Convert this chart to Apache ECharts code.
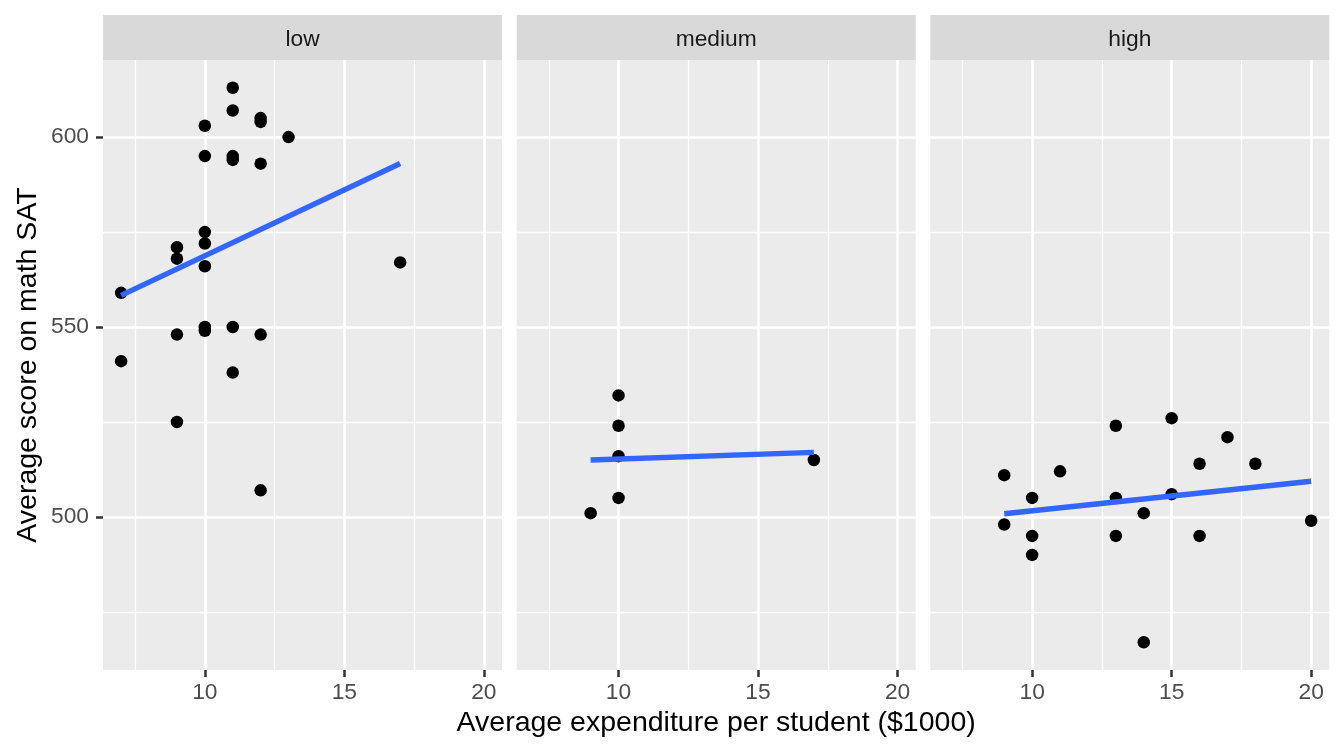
<!DOCTYPE html>
<html>
<head>
<meta charset="utf-8">
<script src="https://cdn.jsdelivr.net/npm/echarts@6/dist/echarts.min.js"></script>
<style>
html,body{margin:0;padding:0;background:#fff;}
#chart{width:1344px;height:756px;}
</style>
</head>
<body>
<div id="chart"></div>
<script>
// ---- data ----
const panelNames = ['low', 'medium', 'high'];

const lowExpenditure = [7, 7, 9, 9, 9, 9, 10, 10, 10, 10, 10, 10, 10, 11, 11, 11, 11, 11, 11, 12, 12, 12, 12, 12, 13, 17];
const lowScore       = [559, 541, 571, 568, 548, 525, 603, 595, 575, 572, 566, 550, 549, 613, 607, 595, 594, 550, 538, 605, 604, 593, 548, 507, 600, 567];

const mediumExpenditure = [9, 10, 10, 10, 10, 17];
const mediumScore       = [501, 532, 524, 516, 505, 515];

const highExpenditure = [9, 9, 10, 10, 10, 11, 13, 13, 13, 14, 14, 15, 15, 16, 16, 17, 18, 20];
const highScore       = [511, 498, 505, 495, 490, 512, 524, 505, 495, 501, 467, 526, 506, 514, 495, 521, 514, 499];

const xMajorTicks = [10, 15, 20];
const xMinorTicks = [7.5, 12.5, 17.5];
const yMajorTicks = [500, 550, 600];
const yMinorTicks = [475, 525, 575];

const xTitle = 'Average expenditure per student ($1000)';
const yTitle = 'Average score on math SAT';

// ---- layout / style ----
const FONT = "'Liberation Sans', Arial, Helvetica, sans-serif";
const PANEL_LEFT = [103, 516.7, 930.3];
const PANEL_W = 399;
const PANEL_TOP = 60;
const PANEL_H = 610;
const STRIP_TOP = 15;
const STRIP_H = 45;
const TICK_FONT = 22.8;
const TITLE_FONT = 28.5;

const panelX = [lowExpenditure, mediumExpenditure, highExpenditure];
const panelY = [lowScore, mediumScore, highScore];

const allX = [].concat(...panelX);
const allY = [].concat(...panelY);
function padded(arr) {
  const lo = Math.min(...arr), hi = Math.max(...arr);
  const p = (hi - lo) * 0.05;
  return [lo - p, hi + p];
}
const xRange = padded(allX);
const yRange = padded(allY);

function fit(xs, ys) {
  const n = xs.length;
  const mx = xs.reduce((a, b) => a + b, 0) / n;
  const my = ys.reduce((a, b) => a + b, 0) / n;
  let sxy = 0, sxx = 0;
  for (let i = 0; i < n; i++) { sxy += (xs[i] - mx) * (ys[i] - my); sxx += (xs[i] - mx) ** 2; }
  const b = sxy / sxx, a = my - b * mx;
  const x0 = Math.min(...xs), x1 = Math.max(...xs);
  return [[x0, a + b * x0], [x1, a + b * x1]];
}

const grids = [], xAxes = [], yAxes = [], series = [], graphics = [];

panelNames.forEach((name, i) => {
  grids.push({
    left: PANEL_LEFT[i], top: PANEL_TOP, width: PANEL_W, height: PANEL_H,
    show: true, backgroundColor: '#EBEBEB', borderWidth: 0, containLabel: false
  });
  xAxes.push({
    gridIndex: i, type: 'value', min: xRange[0], max: xRange[1],
    axisLine: { show: false },
    axisTick: { show: true, customValues: xMajorTicks, length: 7, lineStyle: { color: '#333333', width: 2.5 } },
    axisLabel: { show: true, customValues: xMajorTicks, margin: 11, color: '#4D4D4D', fontSize: TICK_FONT, fontFamily: FONT },
    splitLine: { show: false }
  });
  yAxes.push({
    gridIndex: i, type: 'value', min: yRange[0], max: yRange[1],
    axisLine: { show: false },
    axisTick: { show: i === 0, customValues: yMajorTicks, length: 7, lineStyle: { color: '#333333', width: 2.5 } },
    axisLabel: { show: i === 0, customValues: yMajorTicks, margin: 14, color: '#4D4D4D', fontSize: TICK_FONT, fontFamily: FONT },
    splitLine: { show: false }
  });

  // grid lines (drawn at axis values)
  const minorStyle = { color: '#FFFFFF', width: 1.3, type: 'solid' };
  const majorStyle = { color: '#FFFFFF', width: 2.6, type: 'solid' };
  const lines = [];
  xMinorTicks.forEach(v => lines.push({ xAxis: v, lineStyle: minorStyle }));
  yMinorTicks.forEach(v => lines.push({ yAxis: v, lineStyle: minorStyle }));
  xMajorTicks.forEach(v => lines.push({ xAxis: v, lineStyle: majorStyle }));
  yMajorTicks.forEach(v => lines.push({ yAxis: v, lineStyle: majorStyle }));
  series.push({
    type: 'line', xAxisIndex: i, yAxisIndex: i, data: [], z: 1, silent: true,
    markLine: {
      z: 1, silent: true, symbol: ['none', 'none'], label: { show: false },
      animation: false, data: lines
    }
  });

  series.push({
    type: 'scatter', xAxisIndex: i, yAxisIndex: i, z: 3,
    symbol: 'circle', symbolSize: 12.5,
    itemStyle: { color: '#000000', opacity: 1 },
    data: panelX[i].map((x, k) => [x, panelY[i][k]])
  });

  series.push({
    type: 'line', xAxisIndex: i, yAxisIndex: i, z: 4,
    showSymbol: false, symbol: 'none',
    lineStyle: { color: '#3366FF', width: 5.4 },
    data: fit(panelX[i], panelY[i])
  });

  // facet strip
  graphics.push({
    type: 'rect', left: PANEL_LEFT[i], top: STRIP_TOP,
    shape: { width: PANEL_W, height: STRIP_H },
    style: { fill: '#D9D9D9' }, silent: true
  });
  graphics.push({
    type: 'text', x: PANEL_LEFT[i] + PANEL_W / 2, y: STRIP_TOP + STRIP_H / 2 + 2,
    style: { text: name, fill: '#1A1A1A', font: TICK_FONT + 'px ' + FONT, textAlign: 'center', textVerticalAlign: 'middle' },
    silent: true
  });
});

graphics.push({
  type: 'text', x: (PANEL_LEFT[0] + PANEL_LEFT[2] + PANEL_W) / 2, y: 723,
  style: { text: xTitle, fill: '#000000', font: TITLE_FONT + 'px ' + FONT, textAlign: 'center', textVerticalAlign: 'middle' },
  silent: true
});
graphics.push({
  type: 'text', x: 28, y: PANEL_TOP + PANEL_H / 2, rotation: Math.PI / 2,
  style: { text: yTitle, fill: '#000000', font: TITLE_FONT + 'px ' + FONT, textAlign: 'center', textVerticalAlign: 'middle' },
  silent: true
});

const chart = echarts.init(document.getElementById('chart'), null, { renderer: 'canvas' });
chart.setOption({
  animation: false,
  backgroundColor: '#FFFFFF',
  grid: grids,
  xAxis: xAxes,
  yAxis: yAxes,
  series: series,
  graphic: graphics
});
</script>
</body>
</html>
